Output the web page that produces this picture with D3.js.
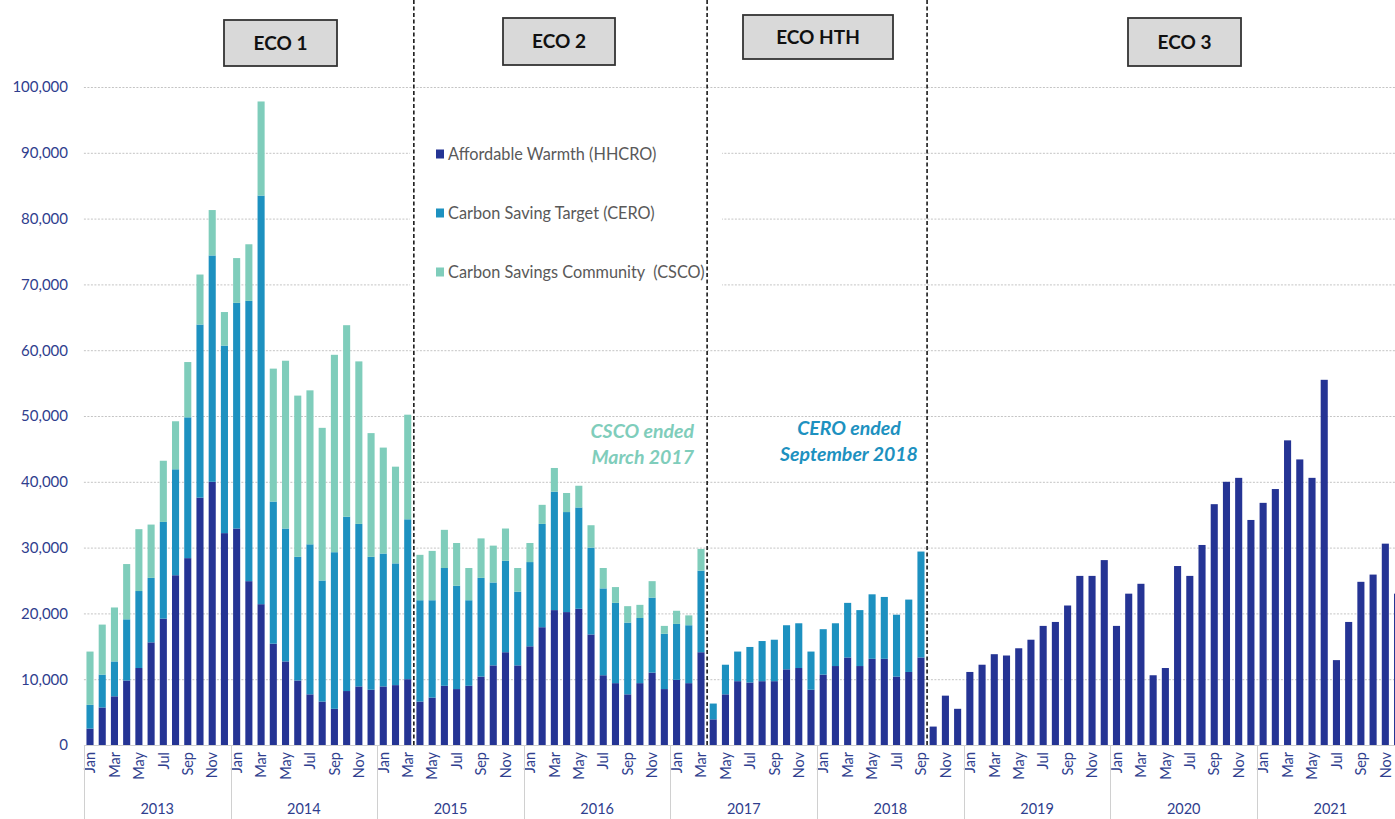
<!DOCTYPE html>
<html>
<head>
<meta charset="utf-8">
<script src="https://cdn.jsdelivr.net/npm/d3@7"></script>
<style>
  html, body { margin: 0; padding: 0; background: #fff; }
  svg { display: block; font-family: Lato, "Open Sans", sans-serif; }
</style>
</head>
<body>
<svg id="chart" width="1395" height="819"></svg>
<script>
// ---------------- DATA ----------------
const years = ["2013", "2014", "2015", "2016", "2017", "2018", "2019", "2020", "2021"];
const monthNames = ["Jan", "Feb", "Mar", "Apr", "May", "Jun", "Jul", "Aug", "Sep", "Oct", "Nov", "Dec"];
const seriesNames = ["Affordable Warmth (HHCRO)", "Carbon Saving Target (CERO)", "Carbon Savings Community  (CSCO)"];
const seriesKeys = ["hhcro", "cero", "csco"];
const yTicks = [0, 10000, 20000, 30000, 40000, 50000, 60000, 70000, 80000, 90000, 100000];

// Affordable Warmth (HHCRO), Jan 2013 .. Dec 2021
const hhcro = [
  2500, 5700, 7400, 9800, 11700, 15600, 19200, 25800, 28400, 37600, 40000, 32200,
  32900, 24900, 21400, 15400, 12700, 9800, 7700, 6600, 5500, 8200, 8900, 8400,
  8900, 9100, 10000, 6600, 7200, 9000, 8500, 9000, 10400, 12100, 14100, 12100,
  15000, 17900, 20500, 20200, 20700, 16800, 10600, 9400, 7700, 9400, 11000, 8500,
  9900, 9400, 14100, 3900, 7700, 9700, 9500, 9700, 9700, 11500, 11700, 8400,
  10700, 12000, 13300, 12000, 13100, 13100, 10400, 11100, 13300, 2800, 7500, 5500,
  11100, 12200, 13800, 13600, 14700, 16000, 18100, 18700, 21200, 25700, 25700, 28100,
  18100, 23000, 24500, 10600, 11700, 27200, 25700, 30400, 36600, 40000, 40600, 34200,
  36800, 38900, 46300, 43400, 40600, 55500, 12900, 18700, 24800, 25900, 30600, 23000
];
// Carbon Saving Target (CERO)
const cero = [
  3600, 5000, 5300, 9300, 11700, 9800, 14700, 16100, 21400, 26300, 34400, 28500,
  34300, 42600, 62100, 21600, 20200, 18800, 22800, 18400, 23800, 26500, 24700, 20200,
  20200, 18500, 24300, 15400, 14800, 17900, 15700, 13000, 15000, 12600, 13900, 11200,
  12800, 15700, 18000, 15200, 15400, 13200, 13200, 12200, 10900, 9900, 11400, 8400,
  8500, 8800, 12400, 2400, 4500, 4500, 5400, 6100, 6300, 6700, 6800, 5800,
  6900, 6500, 8300, 8500, 9800, 9400, 9400, 11000, 16100, 0, 0, 0,
  0, 0, 0, 0, 0, 0, 0, 0, 0, 0, 0, 0,
  0, 0, 0, 0, 0, 0, 0, 0, 0, 0, 0, 0,
  0, 0, 0, 0, 0, 0, 0, 0, 0, 0, 0, 0
];
// Carbon Savings Community (CSCO)
const csco = [
  8100, 7600, 8200, 8400, 9400, 8100, 9300, 7300, 8400, 7600, 6900, 5100,
  6800, 8600, 14300, 20200, 25500, 24500, 23400, 23200, 30000, 29100, 24700, 18800,
  16100, 14700, 15900, 6900, 7500, 5800, 6500, 4900, 6000, 5600, 4900, 3600,
  2900, 2900, 3600, 2900, 3300, 3400, 3100, 2400, 2500, 2000, 2500, 1200,
  2000, 1500, 3300, 0, 0, 0, 0, 0, 0, 0, 0, 0,
  0, 0, 0, 0, 0, 0, 0, 0, 0, 0, 0, 0,
  0, 0, 0, 0, 0, 0, 0, 0, 0, 0, 0, 0,
  0, 0, 0, 0, 0, 0, 0, 0, 0, 0, 0, 0,
  0, 0, 0, 0, 0, 0, 0, 0, 0, 0, 0, 0
];

// Scheme phases: label and the month key where each phase ends (divider after it)
const phaseLabels = ["ECO 1", "ECO 2", "ECO HTH", "ECO 3"];
const phaseEnds = ["2015-Mar", "2017-Mar", "2018-Sep"];
const notes = [["CSCO ended", "March 2017"], ["CERO ended", "September 2018"]];

// ---------------- BUILD ----------------
const keys = [];
years.forEach(yr => monthNames.forEach(m => keys.push(yr + "-" + m)));
const rows = keys.map((k, i) => ({ key: k, hhcro: hhcro[i], cero: cero[i], csco: csco[i] }));

const colors = { hhcro: "#253494", cero: "#1d91c0", csco: "#7fcdbb" };
const W = 1395, H = 819;
const x0 = 83.9, step = 12.22;
const yBase = 745, yTop = 87;

const svg = d3.select("#chart");
svg.append("rect").attr("width", W).attr("height", H).attr("fill", "#fff");

const x = d3.scaleBand().domain(keys).range([x0, x0 + keys.length * step])
  .paddingInner(0.42).paddingOuter(0.21);
const y = d3.scaleLinear().domain([0, 100000]).range([yBase, yTop]);

const axisColor = "#2f3e8e";

// gridlines
svg.append("g").selectAll("line").data(yTicks.filter(d => d > 0)).join("line")
  .attr("x1", x0).attr("x2", W)
  .attr("y1", d => y(d) + 0.5).attr("y2", d => y(d) + 0.5)
  .attr("stroke", "#c4c4c4").attr("stroke-width", 1).attr("stroke-dasharray", "2,1.5");

// y axis
const yAxis = d3.axisLeft(y).tickValues(yTicks).tickFormat(d3.format(",")).tickSize(0).tickPadding(0);
const gy = svg.append("g").attr("transform", "translate(68,0)").call(yAxis);
gy.select(".domain").remove();
gy.selectAll("text").attr("fill", axisColor).style("font-size", "15px")
  .style("font-family", "Lato, sans-serif");

// stacked bars
const stack = d3.stack().keys(seriesKeys);
const layers = stack(rows);
svg.append("g").selectAll("g").data(layers).join("g")
  .attr("fill", d => colors[d.key])
  .selectAll("rect").data(d => d).join("rect")
  .attr("x", d => x(d.data.key))
  .attr("width", x.bandwidth())
  .attr("y", d => y(d[1]))
  .attr("height", d => Math.max(0, y(d[0]) - y(d[1])));

// baseline
svg.append("line").attr("x1", x0).attr("x2", W).attr("y1", yBase + 0.5).attr("y2", yBase + 0.5)
  .attr("stroke", "#d0d0d0");

// x axis month labels (odd months)
const tickKeys = keys.filter((k, i) => i % 2 === 0);
const xAxis = d3.axisBottom(x).tickValues(tickKeys).tickFormat(k => k.split("-")[1]).tickSize(0).tickPadding(0);
const gx = svg.append("g").attr("transform", `translate(0,${yBase})`).call(xAxis);
gx.select(".domain").remove();
gx.selectAll("text")
  .attr("transform", "rotate(-90)")
  .attr("text-anchor", "end")
  .attr("x", -7).attr("y", 0).attr("dy", "0.36em")
  .attr("fill", axisColor).style("font-size", "14.5px").style("font-family", "Lato, sans-serif");

// year separators and labels
const yearStart = yr => x(yr + "-Jan") - x.step() * x.paddingOuter();
svg.append("g").selectAll("line").data(years).join("line")
  .attr("x1", d => Math.round(yearStart(d)) + 0.5).attr("x2", d => Math.round(yearStart(d)) + 0.5)
  .attr("y1", yBase).attr("y2", H)
  .attr("stroke", "#d0d0d0");
svg.append("g").selectAll("text").data(years).join("text")
  .attr("x", d => yearStart(d) + 6 * x.step())
  .attr("y", 814).attr("text-anchor", "middle")
  .attr("fill", axisColor).style("font-size", "14.5px").text(d => d);

// legend (white backing)
svg.append("rect").attr("x", 410).attr("y", 118).attr("width", 312).attr("height", 180).attr("fill", "#fff");
const lg = svg.append("g").selectAll("g").data(seriesKeys).join("g")
  .attr("transform", (d, i) => `translate(436,${154 + i * 59})`);
lg.append("rect").attr("x", 0).attr("y", -4.5).attr("width", 8).attr("height", 9).attr("fill", d => colors[d]);
lg.append("text").attr("x", 12).attr("y", 0).attr("dy", "0.35em")
  .style("white-space", "pre").attr("xml:space", "preserve")
  .attr("fill", "#595959").style("font-size", "16.3px").text((d, i) => seriesNames[i]);

// phase dividers
const divX = k => x(k) + x.bandwidth() + x.step() * x.paddingInner() / 2;
svg.append("g").selectAll("line").data(phaseEnds).join("line")
  .attr("x1", d => divX(d)).attr("x2", d => divX(d))
  .attr("y1", 0).attr("y2", yBase)
  .attr("stroke", "#1a1a1a").attr("stroke-width", 1.6).attr("stroke-dasharray", "4,2.5");

// phase boxes
const boxes = [
  { x: 224, y: 20, w: 113, h: 46 },
  { x: 503, y: 18, w: 112, h: 47 },
  { x: 743, y: 15, w: 150, h: 44 },
  { x: 1128, y: 18, w: 113, h: 48 }
];
const bg = svg.append("g").selectAll("g").data(phaseLabels).join("g")
  .attr("transform", (d, i) => `translate(${boxes[i].x},${boxes[i].y})`);
bg.append("rect").attr("width", (d, i) => boxes[i].w).attr("height", (d, i) => boxes[i].h)
  .attr("fill", "#d9d9d9").attr("stroke", "#333").attr("stroke-width", 1.8);
bg.append("text").attr("x", (d, i) => boxes[i].w / 2).attr("y", (d, i) => boxes[i].h / 2)
  .attr("dy", "0.36em").attr("text-anchor", "middle")
  .attr("fill", "#111").style("font-size", "19px").style("font-weight", "bold").text(d => d);

// notes
const noteG = svg.append("g").style("font-size", "19.5px").style("font-weight", "bold").style("font-style", "italic");
notes[0].forEach((t, i) => noteG.append("text").attr("x", 694).attr("y", 438 + i * 26)
  .attr("text-anchor", "end").attr("fill", colors.csco).text(t));
notes[1].forEach((t, i) => noteG.append("text").attr("x", 849).attr("y", 435 + i * 26)
  .attr("text-anchor", "middle").attr("fill", colors.cero).text(t));
</script>
</body>
</html>
